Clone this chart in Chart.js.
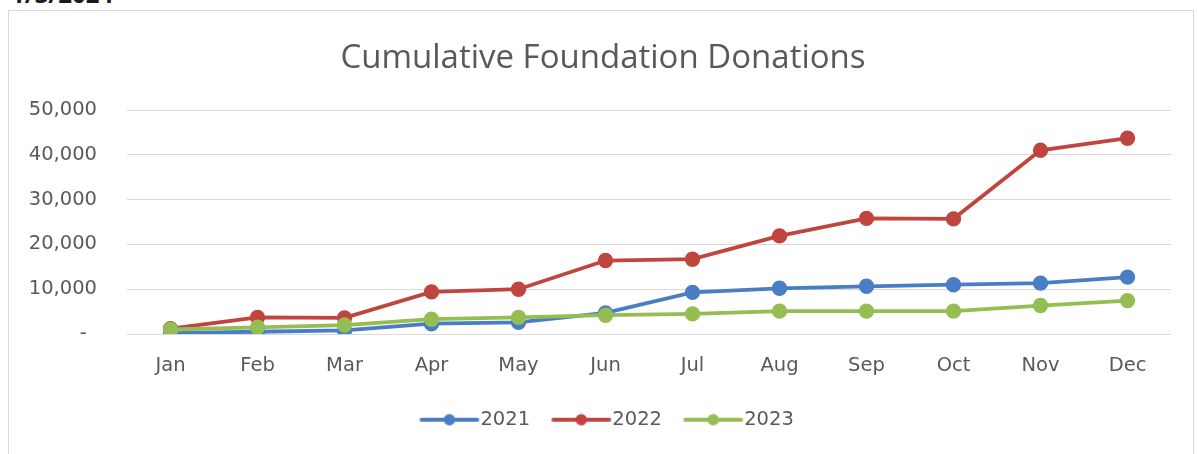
<!DOCTYPE html>
<html>
<head>
<meta charset="utf-8">
<script src="https://cdn.jsdelivr.net/npm/chart.js@4.4.1/dist/chart.umd.min.js"></script>
<style>
  html, body { margin:0; padding:0; background:#fff; overflow:hidden; }
  body { width:1198px; height:454px; position:relative; }
  #date { position:absolute; left:11px; top:-23px; font:bold 24px "Open Sans", sans-serif; color:#1a1a1a; }
  #frame { position:absolute; left:8px; top:10px; width:1186px; height:470px; border:1px solid #d9d9d9; box-sizing:border-box; }
  #wrap { position:absolute; left:0; top:0; width:1198px; height:454px; }
</style>
</head>
<body>
<div id="date">1/3/2024</div>
<div id="frame"></div>
<div id="wrap"><canvas id="c" width="1198" height="454"></canvas></div>
<script>
const months = ['Jan','Feb','Mar','Apr','May','Jun','Jul','Aug','Sep','Oct','Nov','Dec'];
const series2021 = [200, 500, 800, 2300, 2600, 4700, 9300, 10200, 10650, 11000, 11350, 12700];
const series2022 = [1200, 3700, 3600, 9400, 10000, 16400, 16700, 21900, 25800, 25700, 41000, 43700];
const series2023 = [1000, 1500, 2000, 3300, 3700, 4200, 4500, 5100, 5100, 5100, 6350, 7450];
const yTicks = [0, 10000, 20000, 30000, 40000, 50000];
const titleText = 'Cumulative Foundation Donations';

const colors = { c2021:'#4A7EC4', c2022:'#C0453F', c2023:'#94BD52' };
const txt = '#595959';
const font = '"Open Sans", sans-serif';
const axisFont = '"DejaVu Sans", sans-serif';

function legendGlyph(color) {
  const cv = document.createElement('canvas');
  cv.width = 62; cv.height = 14;
  const g = cv.getContext('2d');
  g.strokeStyle = color; g.lineWidth = 3.8; g.lineCap = 'round';
  g.beginPath(); g.moveTo(3, 7); g.lineTo(59, 7); g.stroke();
  g.fillStyle = color;
  g.beginPath(); g.arc(31, 7, 5.8, 0, Math.PI*2); g.fill();
  return cv;
}

function ds(label, data, color, order) {
  return {
    label, data, order,
    borderColor: color, backgroundColor: color,
    pointBackgroundColor: color, pointBorderColor: color,
    borderWidth: 3.8, pointRadius: 5.8, pointHoverRadius: 5.8,
    pointStyle: 'circle', tension: 0,
    legendGlyph: legendGlyph(color)
  };
}

const shiftBoxes = {
  id: 'shiftBoxes',
  afterLayout(chart) {
    if (chart.titleBlock) { chart.titleBlock.left += 7.5; chart.titleBlock.right += 7.5; }
    if (chart.legend) { chart.legend.left += 15.5; chart.legend.right += 15.5; }
  }
};

new Chart(document.getElementById('c'), {
  type: 'line',
  data: {
    labels: months,
    datasets: [
      ds('2021', series2021, colors.c2021, 3),
      ds('2022', series2022, colors.c2022, 2),
      ds('2023', series2023, colors.c2023, 1)
    ]
  },
  plugins: [shiftBoxes],
  options: {
    responsive: false,
    animation: false,
    layout: { padding: { left: 20, right: 27, top: 0, bottom: 14.5 } },
    plugins: {
      title: {
        display: true, text: titleText, color: txt,
        font: { family: font, size: 33, weight: 'normal' },
        padding: { top: 39, bottom: 31.4 }
      },
      legend: {
        position: 'bottom',
        labels: {
          color: txt, font: { family: axisFont, size: 19.5 },
          usePointStyle: true, pointStyleWidth: 42.5, padding: 30,
          generateLabels(chart) {
            return chart.data.datasets.map((d, i) => ({
              text: d.label, fillStyle: d.borderColor, strokeStyle: d.borderColor,
              fontColor: txt, lineWidth: 0, pointStyle: d.legendGlyph, datasetIndex: i, hidden: false
            }));
          }
        }
      },
      tooltip: { enabled: false }
    },
    scales: {
      x: {
        offset: true,
        grid: { display: false, drawTicks: false },
        border: { display: false },
        ticks: { color: txt, font: { family: axisFont, size: 19.5 }, padding: 20 },
        afterFit(s) { s.height = 46; }
      },
      y: {
        min: 0, max: 50000,
        afterBuildTicks(s) { s.ticks = yTicks.map(v => ({ value: v })); },
        grid: { color: '#d9d9d9', lineWidth: 1, drawTicks: false },
        border: { display: false },
        ticks: {
          color: txt, font: { family: axisFont, size: 19.5 }, padding: 30,
          callback: v => v === 0 ? '- \u2009' : v.toLocaleString('en-US')
        },
        afterFit(s) { s.width = 107; }
      }
    }
  }
});
</script>
</body>
</html>
